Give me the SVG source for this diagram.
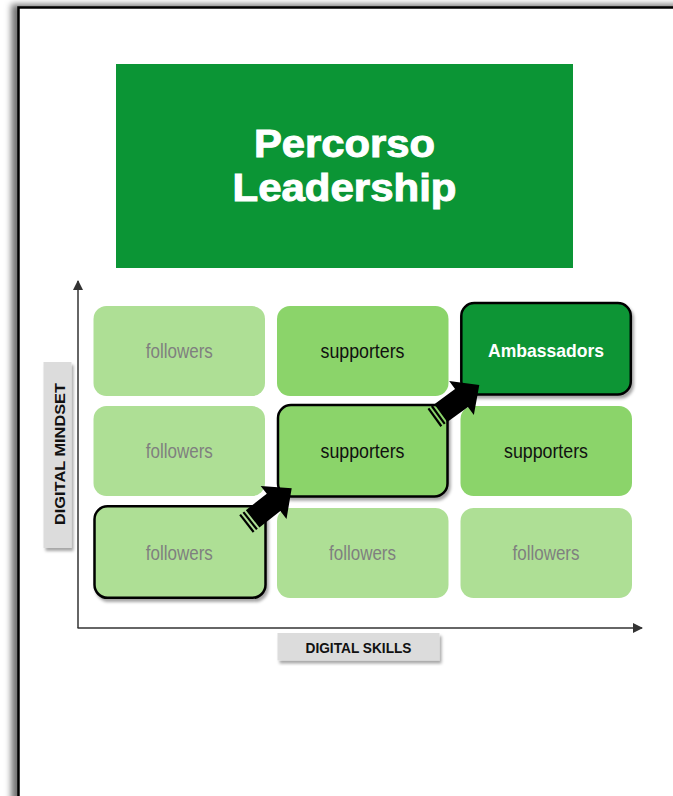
<svg xmlns="http://www.w3.org/2000/svg" width="673" height="796" viewBox="0 0 673 796">
<defs>
<filter id="pageShadow" x="-10%" y="-10%" width="120%" height="120%">
<feDropShadow dx="-6" dy="-2" stdDeviation="3" flood-color="#000" flood-opacity="0.55"/>
</filter>
<filter id="boxShadow" x="-10%" y="-10%" width="130%" height="130%">
<feDropShadow dx="2" dy="3" stdDeviation="1.5" flood-color="#000" flood-opacity="0.35"/>
</filter>
<marker id="ah" markerWidth="10" markerHeight="10" refX="9" refY="5" orient="auto" markerUnits="userSpaceOnUse">
<path d="M0,0 L10,5 L0,10 Z" fill="#333"/>
</marker>
</defs>
<style>
.cell{stroke:none}
.light{fill:#AEDF95}
.mid{fill:#8BD46A}
.dark{fill:#0B9535}
.hl{stroke:#000;stroke-width:2.5;filter:url(#boxShadow)}
.t{font-family:"Liberation Sans Narrow","Liberation Sans",Arial,sans-serif;font-size:20.5px;text-anchor:middle}
.fol{fill:#7F7F7F}
.sup{fill:#111}
.amb{fill:#fff;font-weight:bold;font-family:"Liberation Sans",Arial,sans-serif;font-size:18.5px}
.axis{stroke:#333;stroke-width:1.5;fill:none}
.lbl{fill:#DCDCDC;filter:url(#boxShadow)}
.lt{font-family:"Liberation Sans",Arial,sans-serif;font-weight:bold;font-size:15px;fill:#111;text-anchor:middle}
.title{font-family:"Liberation Sans",Arial,sans-serif;font-weight:bold;font-size:39px;fill:#fff;stroke:#fff;stroke-width:1;text-anchor:middle}
.arrow{fill:#000}
</style>
<rect x="0" y="0" width="673" height="796" fill="#fff"/>
<rect x="18.5" y="7.5" width="720" height="860" fill="#fff" stroke="#000" stroke-width="2.5" filter="url(#pageShadow)"/>

<g id="title">
<rect x="116" y="64" width="457" height="204" class="dark"/>
<text class="title" x="344.5" y="157" textLength="181" lengthAdjust="spacingAndGlyphs">Percorso</text>
<text class="title" x="344.5" y="201" textLength="224" lengthAdjust="spacingAndGlyphs">Leadership</text>
</g>

<g id="axes">
<line class="axis" x1="78" y1="628" x2="78" y2="281" marker-end="url(#ah)"/>
<line class="axis" x1="77.5" y1="628" x2="642" y2="628" marker-end="url(#ah)"/>
</g>

<g id="label-y">
<rect class="lbl" x="43.5" y="362" width="28" height="186"/>
<text class="lt" x="65" y="454" transform="rotate(-90 65 454)" textLength="142" lengthAdjust="spacingAndGlyphs">DIGITAL MINDSET</text>
</g>
<g id="label-x">
<rect class="lbl" x="277.5" y="633" width="162" height="27.5"/>
<text class="lt" x="358.5" y="652.5" textLength="106" lengthAdjust="spacingAndGlyphs">DIGITAL SKILLS</text>
</g>

<g id="cell-r1c1">
<rect class="cell light" x="93.5" y="306" width="171.5" height="90" rx="13"/>
<text class="t fol" x="179.3" y="358.3" textLength="67" lengthAdjust="spacingAndGlyphs">followers</text>
</g>
<g id="cell-r1c2">
<rect class="cell mid" x="277" y="306" width="171.5" height="90" rx="13"/>
<text class="t sup" x="362.5" y="358.3" textLength="84" lengthAdjust="spacingAndGlyphs">supporters</text>
</g>
<g id="cell-r1c3">
<rect class="dark hl" x="461.3" y="303" width="169.5" height="91.5" rx="13"/>
<text class="t amb" x="546" y="356.5" textLength="116" lengthAdjust="spacingAndGlyphs">Ambassadors</text>
</g>

<g id="cell-r2c1">
<rect class="cell light" x="93.5" y="406" width="171.5" height="90" rx="13"/>
<text class="t fol" x="179.3" y="458.3" textLength="67" lengthAdjust="spacingAndGlyphs">followers</text>
</g>
<g id="cell-r2c2">
<rect class="mid hl" x="278" y="405" width="169.5" height="91.5" rx="13"/>
<text class="t sup" x="362.5" y="458.3" textLength="84" lengthAdjust="spacingAndGlyphs">supporters</text>
</g>
<g id="cell-r2c3">
<rect class="cell mid" x="460.5" y="406" width="171.5" height="90" rx="13"/>
<text class="t sup" x="546" y="458.3" textLength="84" lengthAdjust="spacingAndGlyphs">supporters</text>
</g>

<g id="cell-r3c1">
<rect class="light hl" x="94.5" y="506.3" width="171" height="91.5" rx="13"/>
<text class="t fol" x="179.3" y="560.3" textLength="67" lengthAdjust="spacingAndGlyphs">followers</text>
</g>
<g id="cell-r3c2">
<rect class="cell light" x="277" y="508" width="171.5" height="90" rx="13"/>
<text class="t fol" x="362.5" y="560.3" textLength="67" lengthAdjust="spacingAndGlyphs">followers</text>
</g>
<g id="cell-r3c3">
<rect class="cell light" x="460.5" y="508" width="171.5" height="90" rx="13"/>
<text class="t fol" x="546" y="560.3" textLength="67" lengthAdjust="spacingAndGlyphs">followers</text>
</g>

<g id="connectors">
<g class="arrow" transform="translate(246 524) rotate(-38)">
<rect x="0" y="-11" width="2.2" height="22"/>
<rect x="4.2" y="-11" width="2.2" height="22"/>
<path d="M8.4,-11 H35 V-21 L58,0 L35,21 V11 H8.4 Z"/>
</g>
<g class="arrow" transform="translate(434 418) rotate(-36)">
<rect x="0" y="-11" width="2.2" height="22"/>
<rect x="4.2" y="-11" width="2.2" height="22"/>
<path d="M8.4,-11 H34 V-21 L56,0 L34,21 V11 H8.4 Z"/>
</g>
</g>
</svg>
